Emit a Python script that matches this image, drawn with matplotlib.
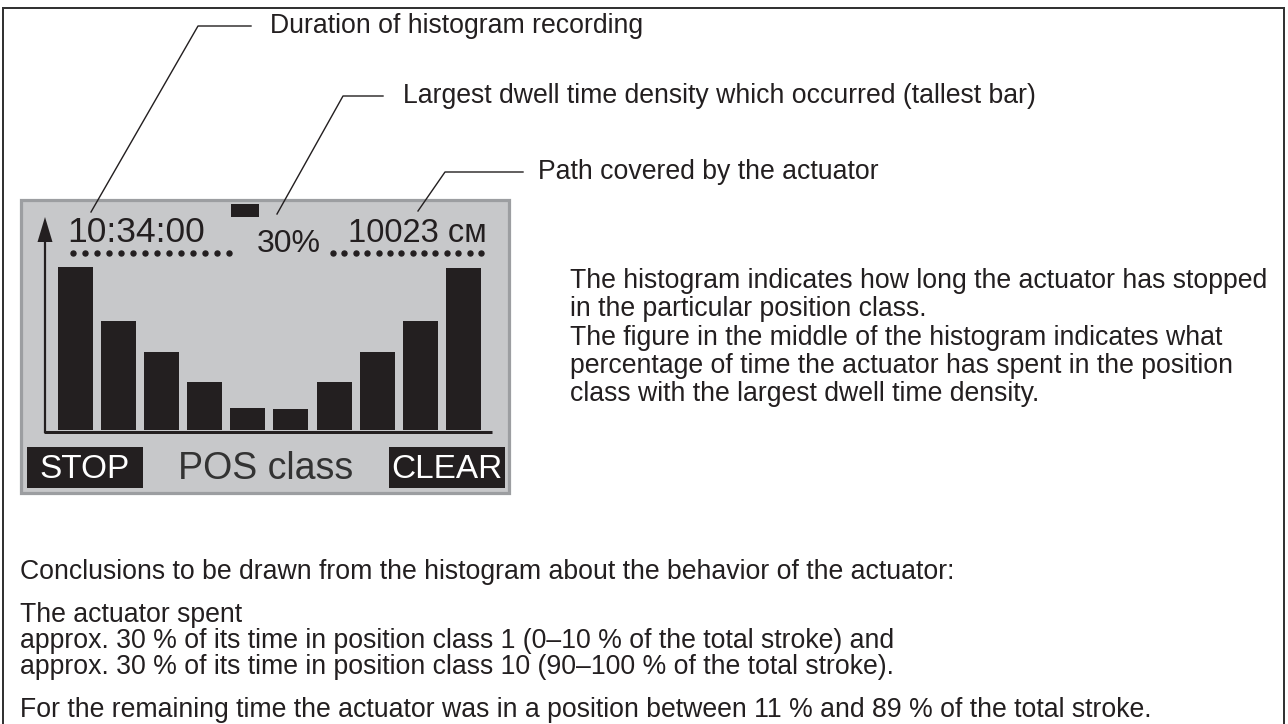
import matplotlib
matplotlib.use("Agg")
import matplotlib.pyplot as plt
from matplotlib.patches import Rectangle, Polygon
import numpy as np

# ---- data ----
pos_classes = [1, 2, 3, 4, 5, 6, 7, 8, 9, 10]
dwell_pct = [30.0, 20.0, 14.3, 8.8, 4.0, 3.9, 8.8, 14.3, 20.0, 29.8]
duration_label = "10:34:00"
max_label = "30%"
path_label = "10023 см"
softkeys = ["STOP", "POS class", "CLEAR"]
callouts = ["Duration of histogram recording",
            "Largest dwell time density which occurred (tallest bar)",
            "Path covered by the actuator"]
body_lines = ["The histogram indicates how long the actuator has stopped",
              "in the particular position class.",
              "The figure in the middle of the histogram indicates what",
              "percentage of time the actuator has spent in the position",
              "class with the largest dwell time density."]
concl_lines = ["Conclusions to be drawn from the histogram about the behavior of the actuator:",
               "The actuator spent",
               "approx. 30 % of its time in position class 1 (0–10 % of the total stroke) and",
               "approx. 30 % of its time in position class 10 (90–100 % of the total stroke).",
               "For the remaining time the actuator was in a position between 11 % and 89 % of the total stroke."]

W, H = 1288, 724
INK = "#231f20"
FONT = ["Liberation Sans", "DejaVu Sans"]
plt.rcParams["font.family"] = FONT
TXT = 19.2

fig = plt.figure(figsize=(W / 100, H / 100), dpi=100)
fig.patch.set_facecolor("white")
ax0 = fig.add_axes([0, 0, 1, 1])
ax0.set_xlim(0, W)
ax0.set_ylim(H, 0)
ax0.axis("off")
PX = 72 / 100  # points per pixel

# outer frame (open at bottom)
ax0.plot([3, 3, 1284, 1284], [H + 5, 8, 8, H + 5], color="#333333", lw=2 * PX,
         solid_joinstyle="miter", clip_on=False)

# display panel
ax0.add_patch(Rectangle((21.5, 199.5), 488, 293, facecolor="#c7c8ca",
                        edgecolor="#9c9ea1", lw=3.2 * PX, zorder=1))

# axes decoration: arrow and baseline
ax0.plot([45, 45], [433, 238], color=INK, lw=2.2 * PX, zorder=3, solid_capstyle="butt")
ax0.add_patch(Polygon([[37.5, 242], [52.5, 242], [45, 217]], closed=True,
                      facecolor=INK, edgecolor="none", zorder=3))
ax0.plot([44, 492], [431.5, 431.5], color=INK, lw=3 * PX, zorder=3, solid_capstyle="butt")

# header texts in the display
ax0.text(67, 242, duration_label, fontsize=25.5, color=INK, ha="left", va="baseline", zorder=4)
ax0.text(257, 252, max_label, fontsize=23, color=INK, ha="left", va="baseline", zorder=4)
ax0.text(348, 242, path_label, fontsize=23.5, color=INK, ha="left", va="baseline", zorder=4)
ax0.add_patch(Rectangle((231, 204), 28, 13, facecolor=INK, edgecolor="none", zorder=4))

# dotted rows
left_dots = np.concatenate([np.linspace(73, 217, 13), [229]])
right_dots = np.linspace(333, 481, 14)
ax0.plot(left_dots, np.full_like(left_dots, 252.5), "o", ms=5 * PX, color=INK, zorder=4)
ax0.plot(right_dots, np.full_like(right_dots, 252.5), "o", ms=5 * PX, color=INK, zorder=4)

# softkeys
ax0.add_patch(Rectangle((27, 447), 116, 41, facecolor=INK, edgecolor="none", zorder=4))
ax0.add_patch(Rectangle((389, 447), 116, 41, facecolor=INK, edgecolor="none", zorder=4))
ax0.text(85, 469, softkeys[0], fontsize=24, color="white", ha="center", va="center", zorder=5)
ax0.text(266, 469, softkeys[1], fontsize=27, color="#333333", ha="center", va="center", zorder=5)
ax0.text(447, 469, softkeys[2], fontsize=24, color="white", ha="center", va="center", zorder=5)

# callout leaders
leaders = [[(91, 212), (198, 26), (251, 26)],
           [(277, 214), (343, 96), (383, 96)],
           [(418, 211), (445, 172), (523, 172)]]
text_x = [270, 403, 538]
for pts, tx, label in zip(leaders, text_x, callouts):
    xs, ys = zip(*pts)
    ax0.plot(xs, ys, color=INK, lw=1.4 * PX, zorder=6)
    ax0.text(tx, pts[-1][1], label, fontsize=TXT, color=INK, ha="left", va="center")

# explanatory text
for i, line in enumerate(body_lines):
    ax0.text(570, 288 + 28.3 * i, line, fontsize=TXT, color=INK, ha="left", va="baseline")

concl_y = [579, 622, 648, 674, 717]
for y, line in zip(concl_y, concl_lines):
    ax0.text(20, y, line, fontsize=TXT, color=INK, ha="left", va="baseline")

# histogram bars (own axes, data coordinates)
x_left, x_right = 53.6, 485.1
y_base, y_top = 430.0, 266.7
axh = fig.add_axes([x_left / W, (H - y_base) / H, (x_right - x_left) / W, (y_base - y_top) / H])
axh.set_xlim(0.5, 10.5)
axh.set_ylim(0, 30)
axh.patch.set_alpha(0)
axh.axis("off")
axh.bar(pos_classes, dwell_pct, width=0.81, color=INK, zorder=2, clip_on=False)

fig.savefig("out.png", dpi=100, facecolor="white")
